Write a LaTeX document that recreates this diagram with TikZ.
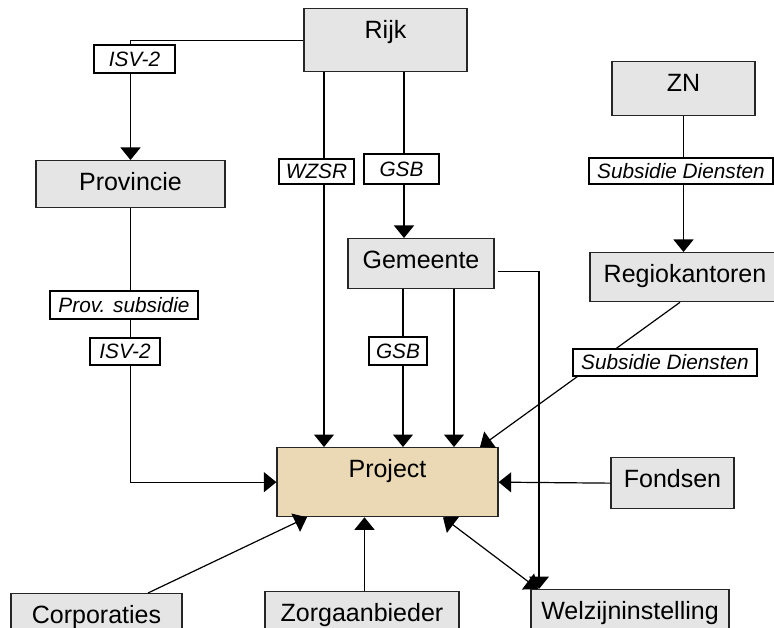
\documentclass[tikz,border=0pt]{standalone}
\usepackage{fontspec}
\setmainfont{Liberation Sans}
\usetikzlibrary{arrows.meta}
\definecolor{boxgray}{RGB}{229,229,229}
\definecolor{projbeige}{RGB}{234,217,180}
\begin{document}
\begin{tikzpicture}[x=1pt,y=-1pt,
  ebox/.style 2 args={draw=black!85, line width=1.3pt, fill=boxgray, inner sep=0pt,
    anchor=north, minimum width=#1, text height=30pt, text depth=#2,
    font=\fontsize{25}{28}\selectfont},
  lab/.style 2 args={draw=black, line width=1.1pt, fill=white, inner sep=0pt,
    minimum width=#1, minimum height=#2, text height=15pt, text depth=0pt,
    font=\fontsize{20.8}{24}\selectfont\itshape},
  conn/.style={line width=1.2pt, black},
  arr/.style={conn, -{Triangle[length=12.5pt,width=20pt]}},
  darr/.style={conn, {Triangle[length=12.5pt,width=20pt]}-{Triangle[length=12.5pt,width=20pt]}}]
\useasboundingbox (0,0) rectangle (774,628);

% organisations
\node[ebox={163pt}{33pt}] (rijk) at (385.5,8) {Rijk};
\node[ebox={189pt}{17pt}] (prov) at (130.5,160) {Provincie};
\node[ebox={146pt}{20pt}] (gem) at (421,238) {Gemeente};
\node[ebox={143pt}{24pt}] (zn) at (683.5,61) {ZN};
\node[ebox={190pt}{19pt}] (regio) at (685,252) {Regiokantoren};
\node[ebox={221pt}{39pt}, fill=projbeige] (project) at (387.5,447) {Project};
\node[ebox={123pt}{21pt}] (fonds) at (672.5,457) {Fondsen};
\node[ebox={171pt}{20pt}] (corp) at (96.5,593) {Corporaties};
\node[ebox={194pt}{20pt}] (zorg) at (362,591) {Zorgaanbieder};
\node[ebox={198pt}{22pt}] (welz) at (630,589) {Welzijninstelling};

% vertical line positions
\coordinate (xwz) at (324,0);
\coordinate (xgsb) at (404,0);
\coordinate (xgp) at (403,0);
\coordinate (xgq) at (454,0);
\coordinate (xwl) at (539,0);

% money flows
\draw[arr] (rijk.west) -| (prov.north);
\draw[arr] (rijk.south -| xwz) -- (project.north -| xwz);
\draw[arr] (rijk.south -| xgsb) -- (gem.north -| xgsb);
\draw[arr] (zn.south) -- (zn.south |- regio.north);
\draw[arr] (gem.south -| xgp) -- (project.north -| xgp);
\draw[arr] (gem.south -| xgq) -- (project.north -| xgq);
\draw[arr] ([xshift=3pt,yshift=-8pt]gem.east) -| (welz.north -| xwl);
\draw[arr] ([xshift=-5pt]regio.south) -- ([xshift=92.5pt]project.north);
\draw[arr] (prov.south) |- (project.west);
\draw[arr] (fonds.west) -- (project.east);
\draw[arr] ([xshift=51.5pt]corp.north) -- ([xshift=-80.5pt]project.south);
\draw[arr] ([xshift=2.5pt]zorg.north) -- ([xshift=2.5pt]zorg.north |- project.south);
\draw[darr] ([xshift=55.5pt]project.south) -- ([xshift=-92pt]welz.north);

% flow labels
\node[lab={81pt}{28pt}] (l1) at (134.5,59) {ISV-2};
\node[lab={75pt}{25pt}] (l2) at (316.5,171.5) {WZSR};
\node[lab={75pt}{30pt}] (l3) at (401.5,169) {GSB};
\node[lab={184pt}{26pt}] (l4) at (681,171) {Subsidie Diensten};
\node[lab={148pt}{28pt}] (l5) at (124,305) {Prov. subsidie};
\node[lab={70pt}{27pt}] (l6) at (125,351.5) {ISV-2};
\node[lab={58pt}{28pt}] (l7) at (398,351) {GSB};
\node[lab={184pt}{27pt}] (l8) at (665,362.5) {Subsidie Diensten};
\end{tikzpicture}
\end{document}
